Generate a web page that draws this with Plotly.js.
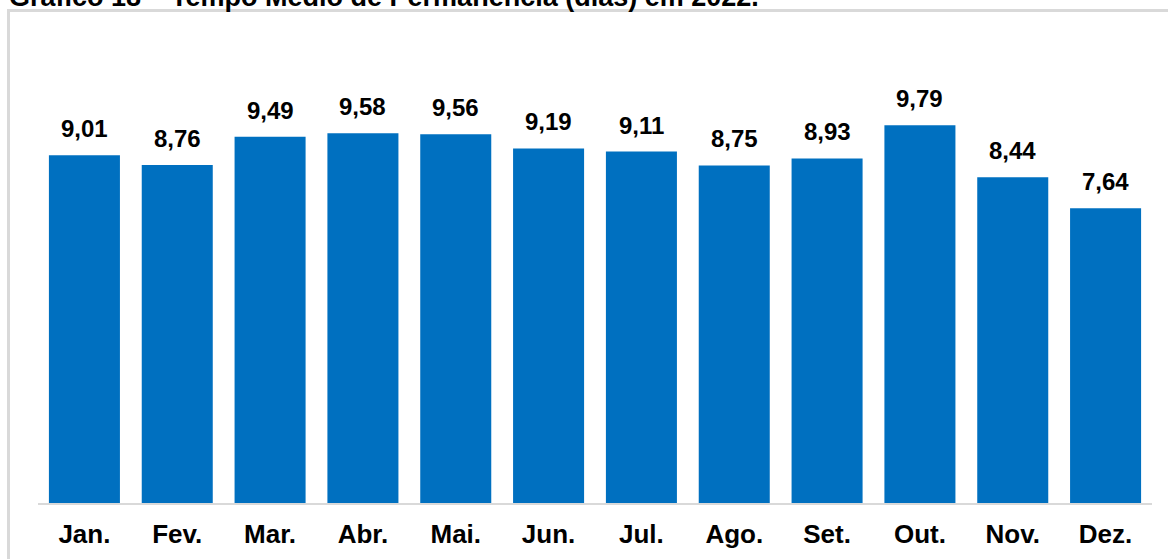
<!DOCTYPE html>
<html>
<head>
<meta charset="utf-8">
<script src="https://cdn.plot.ly/plotly-3.0.1.min.js"></script>
<style>
  html, body { margin: 0; padding: 0; background: #ffffff; }
  #chart { width: 1168px; height: 559px; }
</style>
</head>
<body>
<div id="chart"></div>
<script>
// Tempo médio de permanência (dias) por mês, 2022
const months = ['Jan.', 'Fev.', 'Mar.', 'Abr.', 'Mai.', 'Jun.', 'Jul.', 'Ago.', 'Set.', 'Out.', 'Nov.', 'Dez.'];
const meanStay = [9.01, 8.76, 9.49, 9.58, 9.56, 9.19, 9.11, 8.75, 8.93, 9.79, 8.44, 7.64];
const chartTitle = 'Gráfico 18 – Tempo Médio de Permanência (dias) em 2022.';

const W = 1168, H = 559;
const M = { l: 38, r: 16, t: 40, b: 56 };
const plotW = W - M.l - M.r;
const plotH = H - M.t - M.b;
const px = x => (x - M.l) / plotW;          // pixel -> paper x
const py = y => (H - M.b - y) / plotH;      // pixel -> paper y

const FONT = 'Liberation Sans, Arial, sans-serif';
const fmt = v => v.toFixed(2).replace('.', ',');

const bars = {
  type: 'bar',
  x: months,
  y: meanStay,
  marker: { color: '#0070C0', line: { width: 0 } },
  hoverinfo: 'x+y'
};

const valueLabels = months.map((m, i) => ({
  x: m, y: meanStay[i], xref: 'x', yref: 'y',
  text: fmt(meanStay[i]),
  showarrow: false, yanchor: 'bottom', yshift: 11,
  font: { family: FONT, size: 24, color: '#000000', weight: 'bold' }
}));

const titleNote = {
  xref: 'paper', yref: 'paper', x: px(7), y: py(14),
  xanchor: 'left', yanchor: 'bottom',
  text: chartTitle, showarrow: false,
  font: { family: FONT, size: 27, color: '#000000', weight: 'bold' }
};

const frame = [
  { type: 'line', xref: 'paper', yref: 'paper', x0: px(8.5), x1: px(8.5), y0: py(10), y1: py(600),
    line: { color: '#d9d9d9', width: 3 } },
  { type: 'line', xref: 'paper', yref: 'paper', x0: px(7), x1: px(1200), y0: py(10.5), y1: py(10.5),
    line: { color: '#d9d9d9', width: 3 } }
];

const layout = {
  width: W, height: H,
  margin: M,
  paper_bgcolor: '#ffffff', plot_bgcolor: '#ffffff',
  bargap: 0.235,
  showlegend: false,
  xaxis: {
    type: 'category',
    showline: true, linecolor: '#d9d9d9', linewidth: 2,
    showgrid: false, zeroline: false, ticks: '',
    ticklabelstandoff: 7,
    tickfont: { family: FONT, size: 26, color: '#000000', weight: 'bold' },
    fixedrange: true
  },
  yaxis: {
    range: [0, 12],
    visible: false, showgrid: false, zeroline: false,
    fixedrange: true
  },
  annotations: [titleNote].concat(valueLabels),
  shapes: frame
};

Plotly.newPlot('chart', [bars], layout, { displayModeBar: false, staticPlot: true });
</script>
</body>
</html>
